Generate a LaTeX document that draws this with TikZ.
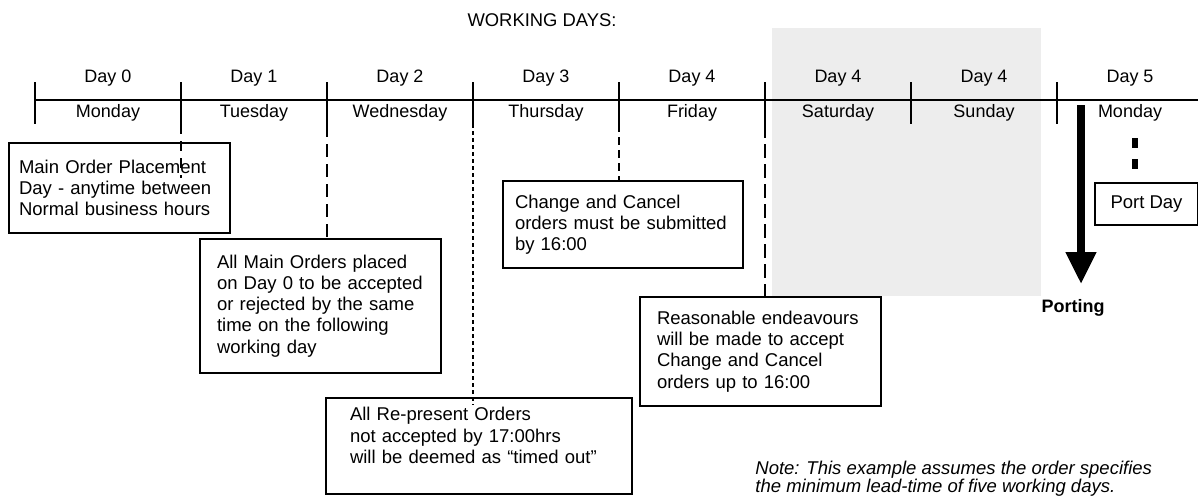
\documentclass[tikz,border=0pt]{standalone}
\usepackage{fontspec}
\setmainfont{Liberation Sans}
\usetikzlibrary{arrows.meta}
\tikzset{>=stealth}
\tikzset{
	daytext/.style = {font = \fontsize{9}{10}\selectfont},
	notebox/.style = {draw, line width = 1pt, fill = white, anchor = north west, align = left, inner ysep = 0pt, font = \fontsize{9.25}{10.6}\selectfont},
	placedash/.style = {line width = 1pt, dash pattern = on 5pt off 3.5pt},
	acceptdash/.style = {line width = 1pt, dash pattern = on 6.5pt off 3.5pt},
	representdash/.style = {line width = 1pt, dash pattern = on 2pt off 1.5pt},
	changedash/.style = {line width = 1pt, dash pattern = on 4pt off 2.5pt},
	endeavourdash/.style = {line width = 1.4pt, dash pattern = on 7pt off 3pt},
}

\begin{document}
\begin{tikzpicture}[x = 0.5pt, y = -0.5pt]
	\useasboundingbox (0,0) rectangle (1198,499);
	% weekend
	\fill [color = black!7] (772,28) rectangle (1041,296);
	\node (title) at (542,20) [font = \fontsize{9.2}{10}\selectfont] {WORKING DAYS:};
	% time line
	\draw [line width = 1pt] (35,100) -- (1198,100);
	\foreach \i/\d/\w in {0/0/Monday, 1/1/Tuesday, 2/2/Wednesday, 3/3/Thursday, 4/4/Friday, 5/4/Saturday, 6/4/Sunday, 7/5/Monday}
	{
	\draw [line width = 1pt] (35+146*\i,82) -- (35+146*\i,124) coordinate (t\i);
	\node (day\i) at (108+146*\i,78) [daytext] {Day \d};
	\node (wk\i) at (108+146*\i,113) [daytext] {\w};
	}
	% boxes
	\node (placement) at (8,142) [notebox, inner xsep = 5pt, text width = 100.5pt, minimum height = 45pt] {Main Order Placement\\Day - anytime between\\Normal business hours};
	\node (accept) at (199,238) [notebox, inner xsep = 8.5pt, text width = 103.5pt, minimum height = 67pt] {All Main Orders placed\\on Day 0 to be accepted\\or rejected by the same\\time on the following\\working day};
	\node (represent) at (325,397) [notebox, inner xsep = 12pt, text width = 129pt, minimum height = 48pt] {All Re-present Orders\\not accepted by 17:00hrs\\will be deemed as \textquotedblleft timed out\textquotedblright\\\rule{0pt}{4pt}};
	\node (change) at (502,180) [notebox, inner xsep = 6pt, text width = 108pt, minimum height = 43.5pt] {Change and Cancel\\orders must be submitted\\by 16:00};
	\node (endeavour) at (639,296) [notebox, inner xsep = 8.5pt, text width = 103.5pt, minimum height = 54.5pt] {Reasonable endeavours\\will be made to accept\\Change and Cancel\\orders up to 16:00};
	\node (portday) at (1094,182) [notebox, align = center, minimum width = 51.5pt, minimum height = 21pt] {Port Day};
	% dashed marks
	\coordinate (placemark) at (181,178);
	\coordinate (representmark) at (473,405);
	\draw [placedash] (t1) -- (placemark);
	\draw [acceptdash] (t2) -- (t2 |- accept.north);
	\draw [representdash] (t3) -- (representmark);
	\draw [changedash] (t4) -- (t4 |- change.north);
	\draw [endeavourdash] (t5) -- (t5 |- endeavour.north);
	\coordinate (portmark) at (1135,138);
	\coordinate (portmarkend) at (1135,169);
	\draw [line width = 3pt, dash pattern = on 5pt off 5.5pt] (portmark) -- (portmarkend);
	% porting arrow
	\coordinate (portstart) at (1081,105);
	\coordinate (porttip) at (1081,284);
	\draw [line width = 3.8pt, -{Triangle[width = 14.5pt, length = 16pt]}] (portstart) -- (porttip);
	\node (porting) at (1073,308) [font = \fontsize{9}{10}\selectfont\bfseries] {Porting};
	\node (note) at (755,479) [anchor = west, align = left, inner sep = 0pt, font = \fontsize{9.25}{9.15}\selectfont\itshape] {Note: This example assumes the order specifies\\the minimum lead-time of five working days.};
\end{tikzpicture}
\end{document}
